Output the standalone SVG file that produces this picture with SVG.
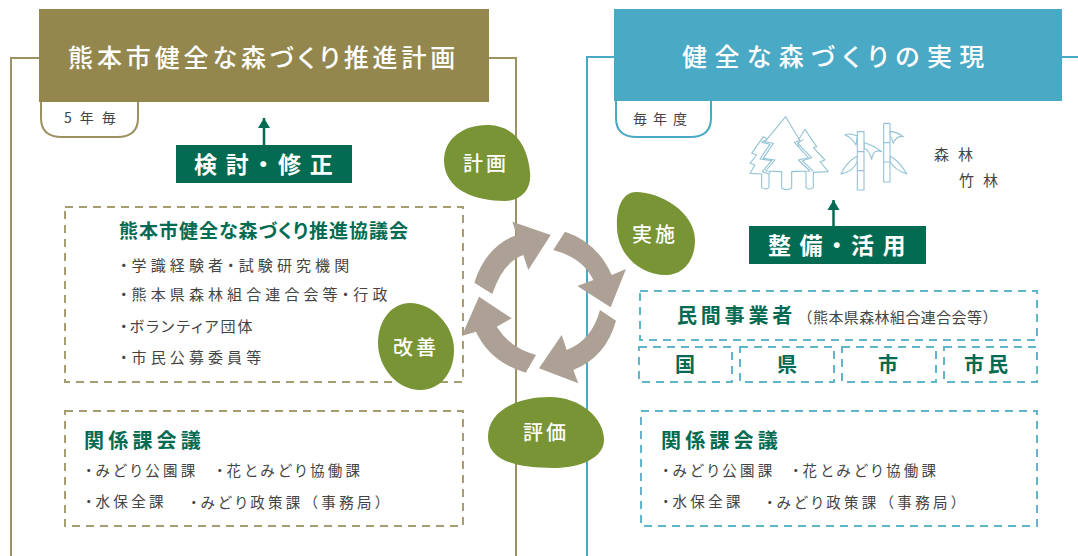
<svg xmlns="http://www.w3.org/2000/svg" width="1078" height="556" viewBox="0 0 1078 556">
<style>
text{font-family:"Noto Sans CJK JP","Noto Sans",sans-serif;font-feature-settings:"palt";dominant-baseline:central}
.wide{font-feature-settings:normal}
.frameL{fill:none;stroke:#9c9160;stroke-width:2}
.frameR{fill:none;stroke:#4aa9c5;stroke-width:2}
.dashL{fill:none;stroke:#a59c70;stroke-width:2;stroke-dasharray:8 6}
.dashR{fill:none;stroke:#5fb5c9;stroke-width:2;stroke-dasharray:8 6}
.title{fill:#fff;font-size:25px;font-weight:500}
.tab{fill:#444;font-size:14px}
.act{fill:#fff;font-size:23px;font-weight:700}
.blobT{fill:#fff;font-size:20px;font-weight:500;text-anchor:middle;letter-spacing:3px}
.blob{fill:#789434}
.head{fill:#036b52;font-weight:700}
.item{fill:#444;font-size:15px;letter-spacing:4.1px}
.item2{fill:#444;font-size:14.5px;letter-spacing:3.3px}
.cyc{fill:#aca194}
.up{stroke:#036b52;stroke-width:2.5;fill:none;marker-end:url(#ah)}
.tree{fill:#fff;stroke:#93c3d5;stroke-width:3.3;stroke-linejoin:round}
.off{fill:none;stroke:#93c3d5;stroke-width:3.3;stroke-linejoin:round}
</style>
<defs>
<marker id="ah" markerUnits="userSpaceOnUse" markerWidth="14" markerHeight="12" refX="7" refY="0" orient="0" overflow="visible"><path d="M7,0L13,10H1Z" fill="#036b52"/></marker>
</defs>
<rect width="1078" height="556" fill="#fff"/>

<g id="frame-left">
<path class="frameL" d="M11,556V58H516V556"/>
<path d="M41,100V118Q41,137 62,137H117Q138,137 138,118V100Z" fill="#fff" stroke="#9c9160" stroke-width="2"/>
<rect x="39" y="9" width="450" height="93" fill="#93874e"/>
<text class="title" x="68" y="56" letter-spacing="3.9">熊本市健全な森づくり推進計画</text>
<text class="tab" x="64" y="117" letter-spacing="8" font-size="13">5年毎</text>
</g>
<g id="frame-right">
<path class="frameR" d="M1078,57H587V556"/>
<path d="M616,100V118Q616,137 637,137H690Q711,137 711,118V100Z" fill="#fff" stroke="#4aa9c5" stroke-width="2"/>
<rect x="614" y="9" width="448" height="92" fill="#4aa9c5"/>
<text class="title" x="682" y="55" letter-spacing="7.4">健全な森づくりの実現</text>
<text class="tab" x="633" y="118" letter-spacing="6">毎年度</text>
</g>

<g id="connectors">
<path class="up" d="M264,145V118"/>
<path class="up" d="M833.5,226V200"/>
<path class="cyc" d="M474.3,282.7Q486,246 516.7,235L512.3,221.7L550.7,235L528.3,270L523.3,255Q503,262 492.3,294Z"/>
<path class="cyc" d="M565,231.7Q597,242 611.7,275L626,269L610.7,307.3L577.3,286L593.3,280Q583,258 553.3,250Z"/>
<path class="cyc" d="M616,320.7Q606,357 573.3,370L578.3,383.3L539,368.3L561.7,335L566.7,350Q592,340 600,310Z"/>
<path class="cyc" d="M536,355Q510,348 496.7,326.7L511.7,318.3L479,296.7L461.7,336L476,331.7Q490,362 525.7,372.7Z"/>
</g>

<g id="review">
<rect x="176" y="145" width="176" height="38" fill="#036b52"/>
<text class="act" x="194" y="163" letter-spacing="8.8">検討・修正</text>
</g>
<g id="maintain">
<rect x="749" y="226" width="177" height="38" fill="#036b52"/>
<text class="act" x="768" y="244" letter-spacing="8.5">整備・活用</text>
</g>

<g id="council">
<rect class="dashL" x="65" y="207" width="398" height="175"/>
<text class="head" x="119" y="229" font-size="19" letter-spacing="1">熊本市健全な森づくり推進協議会</text>
<text class="item" x="120" y="264">・学識経験者・試験研究機関</text>
<text class="item" x="120" y="293.5">・熊本県森林組合連合会等・行政</text>
<text class="item" x="120" y="325" style="letter-spacing:2px">・ボランティア団体</text>
<text class="item" x="120" y="356">・市民公募委員等</text>
</g>
<g id="related-left">
<rect class="dashL" x="65" y="411" width="398" height="115"/>
<text class="head" x="84" y="439" font-size="20" letter-spacing="4.2">関係課会議</text>
<text class="item2" x="85" y="469">・みどり公園課<tspan x="216">・花とみどり協働課</tspan></text>
<text class="item2" x="85" y="500.5">・水保全課<tspan x="190">・みどり政策課<tspan class="wide">（事務局）</tspan></tspan></text>
</g>

<g id="forest">
<g transform="translate(745 110) scale(.33333)">
<path class="tree" d="M55,80L20,130L35,135L15,160L30,165L15,190L50,192V232Q61,242 72,232V192L90,160V100Z"/>
<path class="tree" d="M180,58L215,110L205,113L240,150L225,155L250,185L205,187V232Q194,242 183,232V190L160,150V90Z"/>
<path class="off" d="M68,88L50,97L75,103L45,147L80,152L52,185L72,192"/>
<path class="off" d="M175,88L158,100L200,143L172,152L205,184"/>
<path class="tree" d="M122,20L165,92L148,97L190,143L160,150L195,183L140,185V234Q125,244 110,234V185L62,183L90,150L55,145L85,100L60,95Z"/>
<path class="off" d="M143,184H158"/>
</g>
<g transform="translate(730 100) scale(.33333)">
<path class="tree" d="M382,108Q360,98 345,105Q365,112 378,135Z"/>
<path class="tree" d="M402,128Q430,135 455,155Q430,145 425,178Q418,150 402,145Z"/>
<path class="tree" d="M382,168Q350,185 333,222Q370,215 382,185Z"/>
<path class="tree" d="M480,95Q500,95 520,110Q500,105 490,130Q485,112 480,110Z"/>
<path class="tree" d="M480,168Q510,185 530,222Q495,210 480,185Z"/>
<rect class="tree" x="382" y="95" width="20" height="175"/>
<rect class="tree" x="461" y="70" width="19" height="176"/>
<path class="off" d="M382,155H402M382,212H402M461,128H480M461,186H480"/>
</g>
</g>
<text id="forest-label" x="934" y="153" font-size="15" letter-spacing="9" fill="#444">森林</text>
<text id="bamboo-label" x="959" y="179" font-size="15" letter-spacing="9" fill="#444">竹林</text>

<g id="private">
<rect class="dashR" x="640" y="291" width="397" height="49"/>
<text class="head" x="677" y="314" font-size="20" letter-spacing="3.8">民間事業者</text>
<text class="wide" x="797.6" y="316" font-size="15" letter-spacing=".4" fill="#444">（熊本県森林組合連合会等）</text>
</g>
<g id="kuni"><rect class="dashR" x="639" y="347" width="93" height="35"/><text class="head" x="685" y="363" font-size="20" text-anchor="middle">国</text></g>
<g id="ken"><rect class="dashR" x="740" y="347" width="94" height="35"/><text class="head" x="787" y="363" font-size="20" text-anchor="middle">県</text></g>
<g id="shi"><rect class="dashR" x="842" y="347" width="94" height="35"/><text class="head" x="888" y="363" font-size="20" text-anchor="middle">市</text></g>
<g id="shimin"><rect class="dashR" x="944" y="347" width="93" height="35"/><text class="head" x="988" y="363" font-size="20" letter-spacing="4" text-anchor="middle">市民</text></g>
<g id="related-right">
<rect class="dashR" x="641" y="411" width="396" height="115"/>
<text class="head" x="661" y="439" font-size="20" letter-spacing="4.2">関係課会議</text>
<text class="item2" x="662" y="469">・みどり公園課<tspan x="792">・花とみどり協働課</tspan></text>
<text class="item2" x="662" y="500.5">・水保全課<tspan x="766">・みどり政策課<tspan class="wide">（事務局）</tspan></tspan></text>
</g>

<g id="plan"><path class="blob" d="M444,160C444,138 465,124 489,125C512,126 527,142 530,172C532,192 518,201 505,201C475,201 444,190 444,160Z"/><text class="blobT" x="486" y="162">計画</text></g>
<g id="do"><path class="blob" d="M617,228C616,205 624,192 636,192C660,192 695,212 695,240C695,262 682,275 666,275C640,275 618,255 617,228Z"/><text class="blobT" x="655" y="233">実施</text></g>
<g id="act"><path class="blob" d="M378,343C378,320 392,303 410,303C432,303 454,325 454,350C454,373 440,390 420,390C398,390 378,368 378,343Z"/><text class="blobT" x="416" y="346">改善</text></g>
<g id="check"><path class="blob" d="M488,437C488,412 515,397 550,397C580,397 604,418 604,440C604,458 580,468 553,468C520,468 488,462 488,437Z"/><text class="blobT" x="546" y="431">評価</text></g>
</svg>
